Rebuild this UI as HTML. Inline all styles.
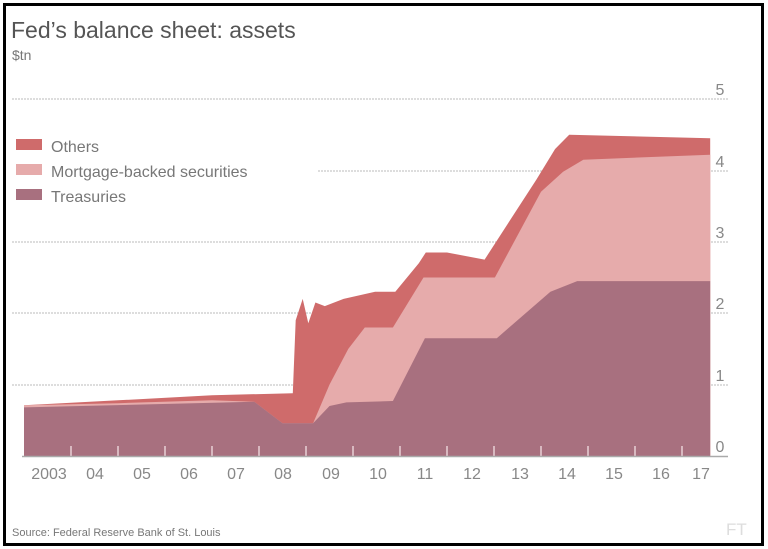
<!DOCTYPE html>
<html><head><meta charset="utf-8"><style>
html,body{margin:0;padding:0;background:#fff;}
svg{display:block;}
text{font-family:"Liberation Sans",sans-serif;}
</style></head><body>
<svg id="s" width="768" height="549" xmlns="http://www.w3.org/2000/svg">
<rect x="4.5" y="4.5" width="758" height="540" fill="#fff" stroke="#000" stroke-width="3"/>
<text x="11" y="38" font-size="23" fill="#555">Fed’s balance sheet: assets</text>
<text x="12" y="60" font-size="14" fill="#777">$tn</text>
<g stroke="#bbb" stroke-width="1" stroke-dasharray="2,1">
<line x1="12" y1="99" x2="728" y2="99"/>
<line x1="318" y1="171" x2="728" y2="171"/>
<line x1="12" y1="242" x2="728" y2="242"/>
<line x1="12" y1="313" x2="728" y2="313"/>
<line x1="12" y1="385" x2="728" y2="385"/>
</g>
<g id="areas"></g>
<g stroke="#e8d0d6" stroke-width="1.5" id="ticks"></g>
<line x1="22" y1="456.5" x2="728" y2="456.5" stroke="#aaa" stroke-width="1.5"/>
<g font-size="16" fill="#888" text-anchor="middle">
<text x="720" y="95">5</text><text x="720" y="167">4</text><text x="720" y="238">3</text>
<text x="720" y="309">2</text><text x="720" y="381">1</text><text x="720" y="452">0</text>
<text x="49" y="479">2003</text><text x="95" y="479">04</text><text x="142" y="479">05</text>
<text x="189" y="479">06</text><text x="236" y="479">07</text><text x="283" y="479">08</text>
<text x="331" y="479">09</text><text x="378" y="479">10</text><text x="425" y="479">11</text>
<text x="472" y="479">12</text><text x="520" y="479">13</text><text x="567" y="479">14</text>
<text x="614" y="479">15</text><text x="661" y="479">16</text><text x="701" y="479">17</text>
</g>
<rect x="16" y="139" width="26" height="11" fill="#cf6b6b"/>
<rect x="16" y="164" width="26" height="11" fill="#e6abab"/>
<rect x="16" y="189" width="26" height="11" fill="#a8707f"/>
<g font-size="16" fill="#777">
<text x="51" y="152">Others</text><text x="51" y="177">Mortgage-backed securities</text><text x="51" y="202">Treasuries</text>
</g>
<text x="12" y="536" font-size="11" fill="#777">Source: Federal Reserve Bank of St. Louis</text>
<text x="726" y="535" font-size="17" fill="#ddd" font-family="Liberation Serif">FT</text>
</svg>
<script>
function X(y){return 24+47*(y-2003);}
function Y(v){return 456-71.4*v;}
var total=[[2003,0.71],[2005,0.78],[2007,0.85],[2008.72,0.88],[2008.78,1.9],[2008.93,2.2],[2009.05,1.86],[2009.2,2.15],[2009.4,2.1],[2009.8,2.2],[2010.47,2.3],[2010.9,2.3],[2011.4,2.7],[2011.55,2.85],[2012.0,2.85],[2012.8,2.75],[2013.9,3.87],[2014.3,4.3],[2014.6,4.5],[2017.6,4.45]];
var tm=[[2003,0.71],[2005,0.74],[2007,0.78],[2007.9,0.76],[2008.5,0.46],[2009.15,0.46],[2009.5,1.0],[2009.9,1.5],[2010.25,1.8],[2010.85,1.8],[2011.5,2.5],[2013.02,2.5],[2014.0,3.7],[2014.47,3.98],[2014.9,4.15],[2017.6,4.22]];
var tr=[[2003,0.68],[2007.9,0.76],[2008.5,0.46],[2009.15,0.46],[2009.5,0.7],[2009.86,0.75],[2010.85,0.77],[2011.53,1.65],[2013.06,1.65],[2014.2,2.3],[2014.77,2.45],[2017.6,2.45]];
function poly(d,c){var p=d.map(function(a){return X(a[0]).toFixed(1)+","+Y(a[1]).toFixed(1);});
p.push(X(2017.6)+","+Y(0));p.push(X(2003)+","+Y(0));
return '<polygon points="'+p.join(" ")+'" fill="'+c+'"/>';}
document.getElementById("areas").innerHTML=poly(total,"#cf6b6b")+poly(tm,"#e6abab")+poly(tr,"#a8707f");
var t="";for(var y=2004;y<=2017;y++){var x=X(y);t+='<line x1="'+x+'" y1="446" x2="'+x+'" y2="456"/>';}
document.getElementById("ticks").innerHTML=t;
</script>
</body></html>
